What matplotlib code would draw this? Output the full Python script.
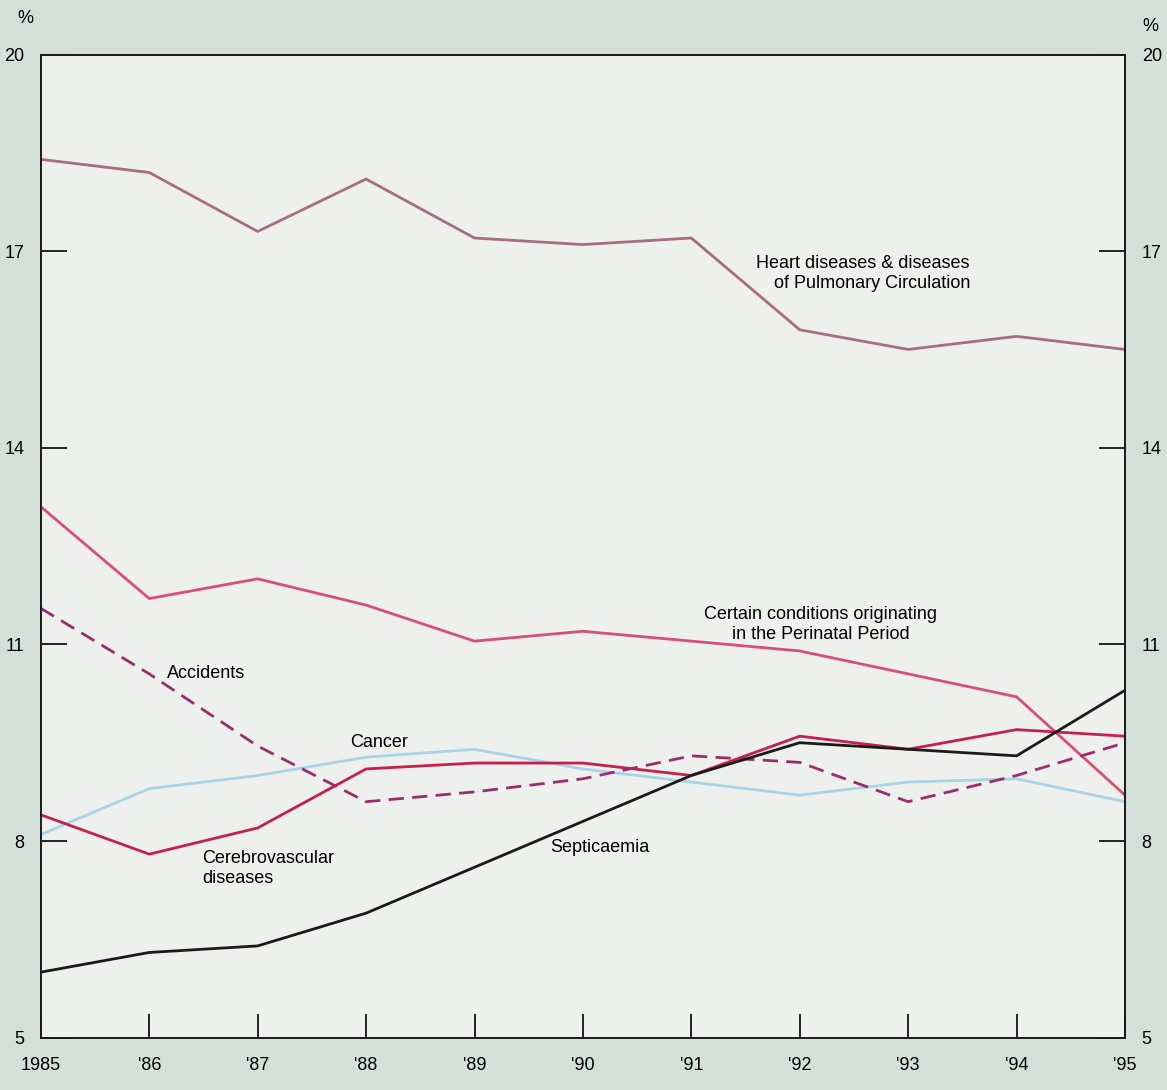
import matplotlib
matplotlib.use("Agg")
import matplotlib.pyplot as plt

plt.rcParams['font.family'] = ['Liberation Sans', 'DejaVu Sans']

years = list(range(1985, 1996))
year_labels = ['1985', "'86", "'87", "'88", "'89", "'90", "'91", "'92", "'93", "'94", "'95"]

# % of all medically certified deaths
heart = [18.4, 18.2, 17.3, 18.1, 17.2, 17.1, 17.2, 15.8, 15.5, 15.7, 15.5]
perinatal = [13.1, 11.7, 12.0, 11.6, 11.05, 11.2, 11.05, 10.9, 10.55, 10.2, 8.7]
accidents = [11.55, 10.55, 9.45, 8.6, 8.75, 8.95, 9.3, 9.2, 8.6, 9.0, 9.5]
cancer = [8.1, 8.8, 9.0, 9.28, 9.4, 9.1, 8.9, 8.7, 8.9, 8.95, 8.6]
cerebro = [8.4, 7.8, 8.2, 9.1, 9.19, 9.19, 9.0, 9.6, 9.4, 9.7, 9.6]
septic = [6.0, 6.3, 6.4, 6.9, 7.6, 8.3, 9.0, 9.5, 9.4, 9.3, 10.3]

yticks = [5, 8, 11, 14, 17, 20]

fig = plt.figure(figsize=(11.67, 10.9), dpi=100, facecolor='#d3e0da')
ax = fig.add_axes([0.035, 0.048, 0.929, 0.902], facecolor='#eef0ed')

lw = 2.0
ax.plot(years, heart, color='#a86d80', lw=lw)
ax.plot(years, perinatal, color='#d94f72', lw=lw)
ax.plot(years, cancer, color='#a9d3e6', lw=lw)
ax.plot(years, cerebro, color='#c61f4e', lw=lw)
ax.plot(years, accidents, color='#9c2c6c', lw=lw, dashes=(5.5, 3))
ax.plot(years, septic, color='#1a1a1a', lw=lw)

ax.set_xlim(1985, 1995)
ax.set_ylim(5, 20)
ax.set_xticks(years)
ax.set_xticklabels(year_labels)
ax.set_yticks(yticks)
ax.tick_params(axis='y', direction='in', length=19, width=1.2, pad=12,
               labelsize=13, left=True, right=True, labelleft=True, labelright=True)
ax.tick_params(axis='x', direction='in', length=17, width=1.2, pad=14, labelsize=13)
for s in ax.spines.values():
    s.set_linewidth(1.4)
    s.set_color('#1a1a1a')

fig.text(0.022, 0.983, '%', fontsize=13, ha='center', va='center')
fig.text(0.986, 0.976, '%', fontsize=13, ha='center', va='center')

ts = 13
ax.text(1993.57, 16.66, 'Heart diseases & diseases\nof Pulmonary Circulation',
        fontsize=ts, ha='right', va='center', multialignment='right')
ax.text(1992.19, 11.3, 'Certain conditions originating\nin the Perinatal Period',
        fontsize=ts, ha='center', va='center', multialignment='center')
ax.text(1986.16, 10.55, 'Accidents', fontsize=ts, ha='left', va='center')
ax.text(1987.85, 9.5, 'Cancer', fontsize=ts, ha='left', va='center')
ax.text(1986.49, 7.58, 'Cerebrovascular\ndiseases', fontsize=ts, ha='left', va='center')
ax.text(1989.7, 7.9, 'Septicaemia', fontsize=ts, ha='left', va='center')

fig.savefig('out.png', dpi=100, facecolor=fig.get_facecolor())
